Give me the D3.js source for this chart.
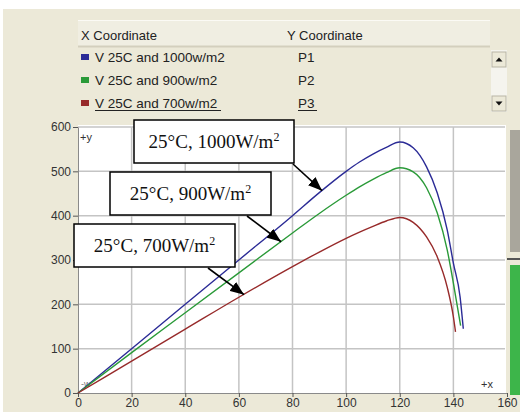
<!DOCTYPE html>
<html>
<head>
<meta charset="utf-8">
<script src="https://cdn.jsdelivr.net/npm/d3@7"></script>
<style>
  body { margin: 0; background: #fff; }
  svg { display: block; }
</style>
</head>
<body>
<svg width="520" height="412"></svg>
<script>
// data: P (W) against V (volts)
var seriesNames = ["V 25C and 1000w/m2", "V 25C and 900w/m2", "V 25C and 700w/m2"];
var seriesKeys  = ["P1", "P2", "P3"];
var seriesColors = ["#2b2b96", "#2a9a38", "#972a2a"];

var v1 = [0, 20, 40, 60, 80, 90, 100, 105, 110, 115, 120, 125, 130, 134, 137.7, 140, 142.5, 143.7];
var p1 = [0, 100, 200, 300, 400, 452, 500, 521, 539, 554, 566, 553, 510, 451, 368, 293, 217, 145];
var v2 = [0, 20, 40, 60, 80, 90, 100, 105, 110, 115, 120, 125, 130, 134, 137.7, 140, 142.7];
var p2 = [0, 91, 181, 271, 361, 405, 446, 465, 482, 497, 508, 499, 463, 406, 323, 248, 152];
var v3 = [0, 20, 40, 60, 80, 90, 100, 105, 110, 115, 120, 125, 130, 134, 137.7, 140, 140.8];
var p3 = [0, 72, 144, 216, 285, 318, 349, 363, 376, 388, 396, 385, 352, 307, 239, 172, 138];

var xTicks = [0, 20, 40, 60, 80, 100, 120, 140, 160];
var yTicks = [0, 100, 200, 300, 400, 500, 600];

var annoLabels = ["25°C, 1000W/m", "25°C, 900W/m", "25°C, 700W/m"];
var annoTipV   = [91.4, 76.1, 62.3];

var svg = d3.select("svg");
var beige = "#ece9d8";

var x = d3.scaleLinear().domain([0, 160]).range([78, 507]);
var y = d3.scaleLinear().domain([0, 600]).range([393, 127]);

// window background
svg.append("rect").attr("x", 3).attr("y", 9).attr("width", 517).attr("height", 403).style("fill", beige);

// ---- table at the top ----
var table = svg.append("g");
table.append("rect").attr("x", 78).attr("y", 20).attr("width", 412).attr("height", 27)
    .style("fill", "#f0eee2");
table.append("line").attr("x1", 78).attr("x2", 490).attr("y1", 20.5).attr("y2", 20.5)
    .style("stroke", "#fbfaf5");
table.append("line").attr("x1", 78).attr("x2", 490).attr("y1", 46.5).attr("y2", 46.5)
    .style("stroke", "#d3cfbd").style("stroke-width", 2);
table.append("text").attr("x", 81).attr("y", 40).text("X Coordinate")
    .attr("font-family", "Liberation Sans, Arial").attr("font-size", 13).attr("fill", "#222");
table.append("text").attr("x", 287).attr("y", 40).text("Y Coordinate")
    .attr("font-family", "Liberation Sans, Arial").attr("font-size", 13).attr("fill", "#222");

seriesNames.forEach(function (name, i) {
  var ty = 62 + i * 23;
  table.append("rect").attr("x", 81).attr("y", ty - 8).attr("width", 8).attr("height", 6)
      .style("fill", seriesColors[i]);
  table.append("text").attr("x", 95).attr("y", ty).text(name)
      .attr("font-family", "Liberation Sans, Arial").attr("font-size", 13.5).attr("fill", "#222");
  table.append("text").attr("x", 298).attr("y", ty).text(seriesKeys[i])
      .attr("font-family", "Liberation Sans, Arial").attr("font-size", 13.5).attr("fill", "#222");
});
// last row underlined
table.append("line").attr("x1", 95).attr("x2", 221).attr("y1", 110.5).attr("y2", 110.5)
    .style("stroke", "#222");
table.append("line").attr("x1", 298).attr("x2", 317).attr("y1", 110.5).attr("y2", 110.5)
    .style("stroke", "#222");

// scrollbar
var sb = svg.append("g");
sb.append("rect").attr("x", 491).attr("y", 50).attr("width", 16).attr("height", 62).style("fill", "#f5f4ee");
[52, 96].forEach(function (by, k) {
  sb.append("rect").attr("x", 492).attr("y", by).attr("width", 14).attr("height", 15)
      .style("fill", beige).style("stroke", "#b9b5a5");
  var cy = by + 7.5;
  var tri = k === 0 ? "M495.5," + (cy + 2) + "L502.5," + (cy + 2) + "L499," + (cy - 2) + "Z"
                    : "M495.5," + (cy - 2) + "L502.5," + (cy - 2) + "L499," + (cy + 2) + "Z";
  sb.append("path").attr("d", tri).style("fill", "#111");
});

// right side bars
svg.append("rect").attr("x", 510).attr("y", 130).attr("width", 10).attr("height", 122).style("fill", "#a9a69c");
svg.append("line").attr("x1", 507).attr("x2", 520).attr("y1", 259).attr("y2", 259)
    .style("stroke", "#555").style("stroke-width", 2);
svg.append("rect").attr("x", 510).attr("y", 265).attr("width", 10).attr("height", 130).style("fill", "#3db54a");

// ---- plot ----
svg.append("rect").attr("x", x(0)).attr("y", y(600) - 2).attr("width", 428).attr("height", y(0) - y(600) + 2)
    .style("fill", "#fff");

var grid = svg.append("g");
grid.selectAll("line.vx").data(xTicks.filter(function (d) { return d > 0 && d < 160; }))
  .enter().append("line")
    .attr("x1", function (d) { return x(d); }).attr("x2", function (d) { return x(d); })
    .attr("y1", y(600)).attr("y2", y(0))
    .style("stroke", "#c4c4c4").style("stroke-width", 1.5);
grid.selectAll("line.hy").data(yTicks.filter(function (d) { return d > 0; }))
  .enter().append("line")
    .attr("x1", x(0)).attr("x2", 505)
    .attr("y1", function (d) { return y(d); }).attr("y2", function (d) { return y(d); })
    .style("stroke", "#c4c4c4").style("stroke-width", 1.5);

var yAxis = svg.append("g").attr("transform", "translate(" + x(0) + ",0)")
    .call(d3.axisLeft(y).tickValues(yTicks).tickSize(5).tickSizeOuter(0));
var xAxis = svg.append("g").attr("transform", "translate(0," + y(0) + ")")
    .call(d3.axisBottom(x).tickValues(xTicks).tickSize(4).tickSizeOuter(0));
[yAxis, xAxis].forEach(function (a) {
  a.select(".domain").style("stroke", "#8a8a8a");
  a.selectAll(".tick line").style("stroke", "#555");
  a.selectAll(".tick text").attr("font-family", "Liberation Sans, Arial").attr("font-size", 12).attr("fill", "#333");
});
xAxis.selectAll(".tick text").attr("dy", "0.95em").attr("y", 3);
yAxis.selectAll(".tick text").attr("x", -7);

svg.append("text").attr("x", 80).attr("y", 141).text("+y")
    .attr("font-family", "Liberation Sans, Arial").attr("font-size", 11).attr("fill", "#333");
svg.append("text").attr("x", 481).attr("y", 388).text("+x")
    .attr("font-family", "Liberation Sans, Arial").attr("font-size", 11).attr("fill", "#333");
svg.append("text").attr("x", 81).attr("y", 387).text("-w")
    .attr("font-family", "Liberation Sans, Arial").attr("font-size", 9).attr("fill", "#777");

// curves
var allV = [v1, v2, v3];
var allP = [p1, p2, p3];
var line = d3.line()
    .x(function (d) { return x(d[0]); })
    .y(function (d) { return y(d[1]); })
    .curve(d3.curveMonotoneX);

allV.forEach(function (vs, i) {
  var pts = vs.map(function (v, j) { return [v, allP[i][j]]; });
  svg.append("path").attr("d", line(pts))
      .style("fill", "none").style("stroke", seriesColors[i]).style("stroke-width", 1.4);
});

// annotation boxes + arrows
svg.append("defs").append("marker")
    .attr("id", "head").attr("viewBox", "0 -6 14 12")
    .attr("refX", 14).attr("refY", 0)
    .attr("markerUnits", "userSpaceOnUse")
    .attr("markerWidth", 14).attr("markerHeight", 12)
    .attr("orient", "auto")
  .append("path").attr("d", "M0,-5.5L14,0L0,5.5Z").style("fill", "#000");

var boxes = [
  { x: 134, y: 120, w: 160, h: 43, tail: [293, 164] },
  { x: 110, y: 172, w: 161, h: 43, tail: [247, 216] },
  { x: 74,  y: 224, w: 161, h: 43, tail: [208, 268] }
];

boxes.forEach(function (b, i) {
  var tv = annoTipV[i];
  var tp = d3.scaleLinear().domain(allV[i]).range(allP[i])(tv);
  svg.append("line")
      .attr("x1", b.tail[0]).attr("y1", b.tail[1])
      .attr("x2", x(tv) - 1).attr("y2", y(tp) + 1)
      .style("stroke", "#000").style("stroke-width", 1.6)
      .attr("marker-end", "url(#head)");
});

boxes.forEach(function (b, i) {
  var g = svg.append("g");
  g.append("rect").attr("x", b.x).attr("y", b.y).attr("width", b.w).attr("height", b.h)
      .style("fill", "#fff").style("stroke", "#000").style("stroke-width", 1.5);
  var t = g.append("text").attr("x", b.x + b.w / 2).attr("y", b.y + b.h / 2 + 6.5)
      .attr("text-anchor", "middle")
      .attr("font-family", "Liberation Serif, Times New Roman, serif").attr("font-size", 19)
      .attr("fill", "#111");
  t.append("tspan").text(annoLabels[i]);
  t.append("tspan").text("2").attr("font-size", 12).attr("dy", -7);
});
</script>
</body>
</html>
